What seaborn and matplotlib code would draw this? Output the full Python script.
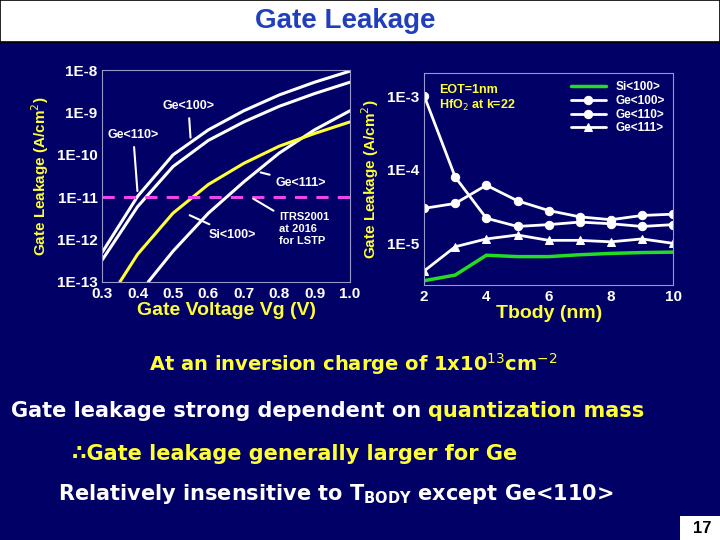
import numpy as np
import pandas as pd
import matplotlib.pyplot as plt
import seaborn as sns
from matplotlib.patches import Rectangle

sns.set_style("dark")
plt.rcParams["font.family"] = ["Liberation Sans", "DejaVu Sans"]

NAVY = "#000066"
YEL = "#ffff33"
BODY_FONT = ["DejaVu Sans"]

# left chart: gate leakage vs gate voltage
vg = [0.3, 0.4, 0.5, 0.6, 0.7, 0.8, 0.9, 1.0]
ge110_vg = [5e-13, 1.05e-11, 1e-10, 3.9e-10, 1.1e-9, 2.6e-9, 5.2e-9, 9.5e-9]
ge100_vg = [3.3e-13, 6e-12, 5.3e-11, 2.2e-10, 6e-10, 1.4e-9, 2.8e-9, 5.2e-9]
si_x = [0.35, 0.4, 0.5, 0.6, 0.7, 0.8, 0.9, 1.0]
si_vg = [1.0e-13, 4.5e-13, 4.2e-12, 2e-11, 6.3e-11, 1.6e-10, 3.2e-10, 6e-10]
ge111_x = [0.43, 0.5, 0.6, 0.7, 0.8, 0.9, 1.0]
ge111_vg = [1.0e-13, 5.3e-13, 4.2e-12, 2.3e-11, 1.1e-10, 3.9e-10, 1.1e-9]
itrs = 1e-11

# right chart: gate leakage vs body thickness
tbody = [2, 3, 4, 5, 6, 7, 8, 9, 10]
si_t = [3.1e-6, 3.7e-6, 6.9e-6, 6.6e-6, 6.6e-6, 7e-6, 7.3e-6, 7.5e-6, 7.6e-6]
ge100_t = [3e-5, 3.5e-5, 6.2e-5, 3.8e-5, 2.8e-5, 2.3e-5, 2.1e-5, 2.4e-5, 2.5e-5]
ge110_t = [1.03e-3, 8e-5, 2.2e-5, 1.7e-5, 1.8e-5, 1.95e-5, 1.85e-5, 1.7e-5, 1.8e-5]
ge111_t = [4.2e-6, 9e-6, 1.15e-5, 1.3e-5, 1.1e-5, 1.1e-5, 1.05e-5, 1.15e-5, 1.0e-5]

fig = plt.figure(figsize=(7.2, 5.4), dpi=100)
fig.patch.set_facecolor(NAVY)

# title bar
fig.patches.append(Rectangle((0, 0.922), 1, 0.078, transform=fig.transFigure,
                             facecolor="white", edgecolor="black", lw=1.2))
fig.text(0.48, 0.962, "Gate Leakage", ha="center", va="center", color="#1f3fbf",
         fontsize=20, fontweight="bold")


def style(ax):
    ax.set_facecolor(NAVY)
    for s in ax.spines.values():
        s.set_color("#9999cc")
        s.set_linewidth(0.8)
    ax.tick_params(colors="white", labelsize=11, direction="in", length=3)
    ax.set_yscale("log")
    ax.grid(False)


# left axes
ax1 = fig.add_axes([0.142, 0.478, 0.344, 0.392])
style(ax1)
sns.lineplot(x=vg, y=ge110_vg, ax=ax1, color="white", lw=2.2)
sns.lineplot(x=vg, y=ge100_vg, ax=ax1, color="white", lw=2.2)
sns.lineplot(x=ge111_x, y=ge111_vg, ax=ax1, color="white", lw=2.2)
sns.lineplot(x=si_x, y=si_vg, ax=ax1, color=YEL, lw=2.2)
ax1.axhline(itrs, color="#ee44ee", lw=2.2, ls=(0, (4, 3)))
ax1.set_xlim(0.3, 1.0)
ax1.set_ylim(1.5e-13, 1e-8)
ax1.set_yticks([1e-8, 1e-9, 1e-10, 1e-11, 1e-12, 1e-13])
ax1.set_yticklabels(["1E-8", "1E-9", "1E-10", "1E-11", "1E-12", "1E-13"], fontweight="bold")
ax1.set_xticks(vg)
ax1.set_xticklabels([f"{v:.1f}" for v in vg], fontweight="bold")
ax1.set_xlabel("Gate Voltage Vg (V)", color=YEL, fontsize=14, fontweight="bold", labelpad=1)
ax1.set_ylabel("Gate Leakage (A/cm$^2$)", color=YEL, fontsize=11, fontweight="bold")
lab = dict(color="white", fontsize=9, fontweight="bold")
arr = dict(arrowstyle="-", color="white", lw=1.5)
ax1.annotate("Ge<100>", xy=(0.55, 2.2e-10), xytext=(0.47, 1.2e-9), arrowprops=arr, **lab)
ax1.annotate("Ge<110>", xy=(0.4, 1.2e-11), xytext=(0.315, 2.5e-10), arrowprops=arr, **lab)
ax1.annotate("Ge<111>", xy=(0.74, 4e-11), xytext=(0.79, 2.2e-11), arrowprops=arr, va="center", **lab)
ax1.annotate("Si<100>", xy=(0.54, 4e-12), xytext=(0.6, 1.3e-12), arrowprops=arr, va="center", **lab)
ax1.annotate("ITRS2001\nat 2016\nfor LSTP", xy=(0.72, 1e-11), xytext=(0.8, 8e-13),
             arrowprops=arr, color="white", fontsize=8, fontweight="bold")

# right axes
ax2 = fig.add_axes([0.589, 0.472, 0.346, 0.393])
style(ax2)
sns.lineplot(x=tbody, y=si_t, ax=ax2, color="#22dd22", lw=2.5, label="Si<100>")
sns.lineplot(x=tbody, y=ge100_t, ax=ax2, color="white", lw=2, marker="o", ms=6,
             mec="white", label="Ge<100>")
sns.lineplot(x=tbody, y=ge110_t, ax=ax2, color="white", lw=2, marker="o", ms=6,
             mec="white", label="Ge<110>")
sns.lineplot(x=tbody, y=ge111_t, ax=ax2, color="white", lw=2, marker="^", ms=6,
             mec="white", label="Ge<111>")
ax2.set_xlim(2, 10)
ax2.set_ylim(2.7e-6, 2.1e-3)
ax2.set_yticks([1e-3, 1e-4, 1e-5])
ax2.set_yticklabels(["1E-3", "1E-4", "1E-5"], fontweight="bold")
ax2.set_xticks([2, 4, 6, 8, 10])
ax2.set_xticklabels(["2", "4", "6", "8", "10"], fontweight="bold")
ax2.set_xlabel("Tbody (nm)", color=YEL, fontsize=14, fontweight="bold", labelpad=1)
ax2.set_ylabel("Gate Leakage (A/cm$^2$)", color=YEL, fontsize=11, fontweight="bold")
leg = ax2.legend(loc="upper right", frameon=False, fontsize=8.5, handlelength=3,
                 labelspacing=0.15, borderaxespad=0.3)
for t in leg.get_texts():
    t.set_color("white")
    t.set_fontweight("bold")
ax2.text(0.06, 0.95, "EOT=1nm\nHfO$_2$ at k=22", transform=ax2.transAxes, va="top",
         color=YEL, fontsize=9, fontweight="bold")

# slide text
body = dict(fontweight="bold", family=BODY_FONT, va="center")
fig.text(0.49, 0.325, "At an inversion charge of 1x10$^{13}$cm$^{-2}$", ha="center",
         color=YEL, fontsize=14, **body)
t1 = fig.text(0.015, 0.238, "Gate leakage strong dependent on ",
              color="white", fontsize=15, **body)
fig.canvas.draw()
bb = t1.get_window_extent()
fig.text(bb.x1 / fig.bbox.width, 0.238, "quantization mass",
         color=YEL, fontsize=15, **body)
fig.text(0.1, 0.16, "\u2234Gate leakage generally larger for Ge",
         color=YEL, fontsize=15, **body)
fig.text(0.08, 0.085, "Relatively insensitive to T$_{\\mathbf{BODY}}$ except Ge<110>",
         color="white", fontsize=15, **body)
fig.patches.append(Rectangle((0.945, 0.0), 0.055, 0.045, transform=fig.transFigure,
                             facecolor="white", edgecolor="none"))
fig.text(0.975, 0.022, "17", ha="center", va="center", color="black",
         fontsize=12, fontweight="bold")

fig.savefig("out.png", dpi=100, facecolor=NAVY)
